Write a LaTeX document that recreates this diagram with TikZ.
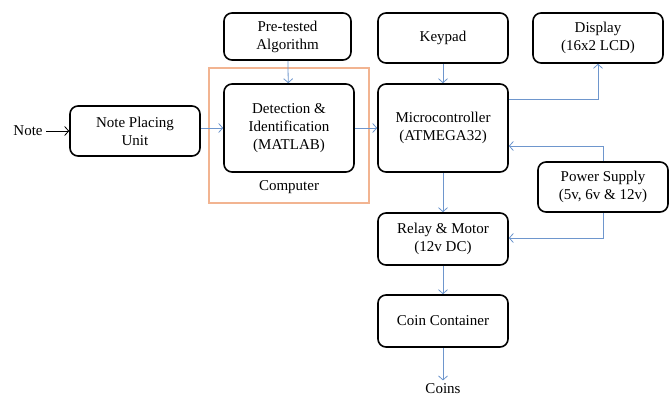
\documentclass[tikz,border=0pt]{standalone}
\usepackage{fontspec}
\setmainfont{Liberation Serif}
\usetikzlibrary{shapes,arrows,arrows.meta}
\definecolor{linkblue}{RGB}{110,150,205}
\definecolor{pcorange}{RGB}{242,180,145}
\tikzstyle{b} = [rectangle, rounded corners=8pt, minimum width=130pt, minimum height=50pt, text centered, align=center, draw=black, line width=1.6pt, font=\fontsize{15}{18}\selectfont]
\tikzstyle{l} = [draw=linkblue, line width=0.8pt, -{Straight Barb[length=4pt,width=9pt]}]

\begin{document}
\begin{tikzpicture}[x=1pt,y=-1pt]
		\useasboundingbox (0,0) rectangle (670,396);
		\draw[pcorange, line width=1.1pt] (209,68) rectangle (369,203);
		\node[b,minimum width=127pt,minimum height=47pt](1) at (287.5,36.5){Pre-tested\\Algorithm};
		\node[b](2) at (443,38){Keypad};
		\node[b](3) at (598,38){Display\\(16x2 LCD)};
		\node[b](4) at (135,131){Note Placing\\Unit};
		\node[b,minimum height=88pt](5) at (289,128){Detection \&\\Identification\\(MATLAB)};
		\node[b,minimum height=88pt](6) at (443,128){Microcontroller\\(ATMEGA32)};
		\node[b](7) at (603,187){Power Supply\\(5v, 6v \& 12v)};
		\node[b,minimum height=52pt](8) at (443,239){Relay \& Motor\\(12v DC)};
		\node[b,minimum height=52pt](9) at (443,321){Coin Container};
		\node[font=\fontsize{15}{18}\selectfont](n) at (28,131){Note};
		\node[font=\fontsize{15}{18}\selectfont](c) at (443,389){Coins};
		\node[font=\fontsize{15}{18}\selectfont](pc) at (289,187){Computer};
		\draw[line width=0.8pt,-{Straight Barb[length=4pt,width=9pt]}] (n)--(4);
		\draw[l] (4.east|-5)--(5);
		\draw[l] (5)--(6);
		\draw[l] (1)--(5);
		\draw[l] (2)--(6);
		\draw[l] (6.east|-0,99)-|(3);
		\draw[l] (7.north)|-(6.east|-0,146);
		\draw[l] (7.south)|-(8.east|-0,238);
		\draw[l] (6)--(8);
		\draw[l] (8)--(9);
		\draw[l] (9)--(c);
		\end{tikzpicture}
\end{document}
